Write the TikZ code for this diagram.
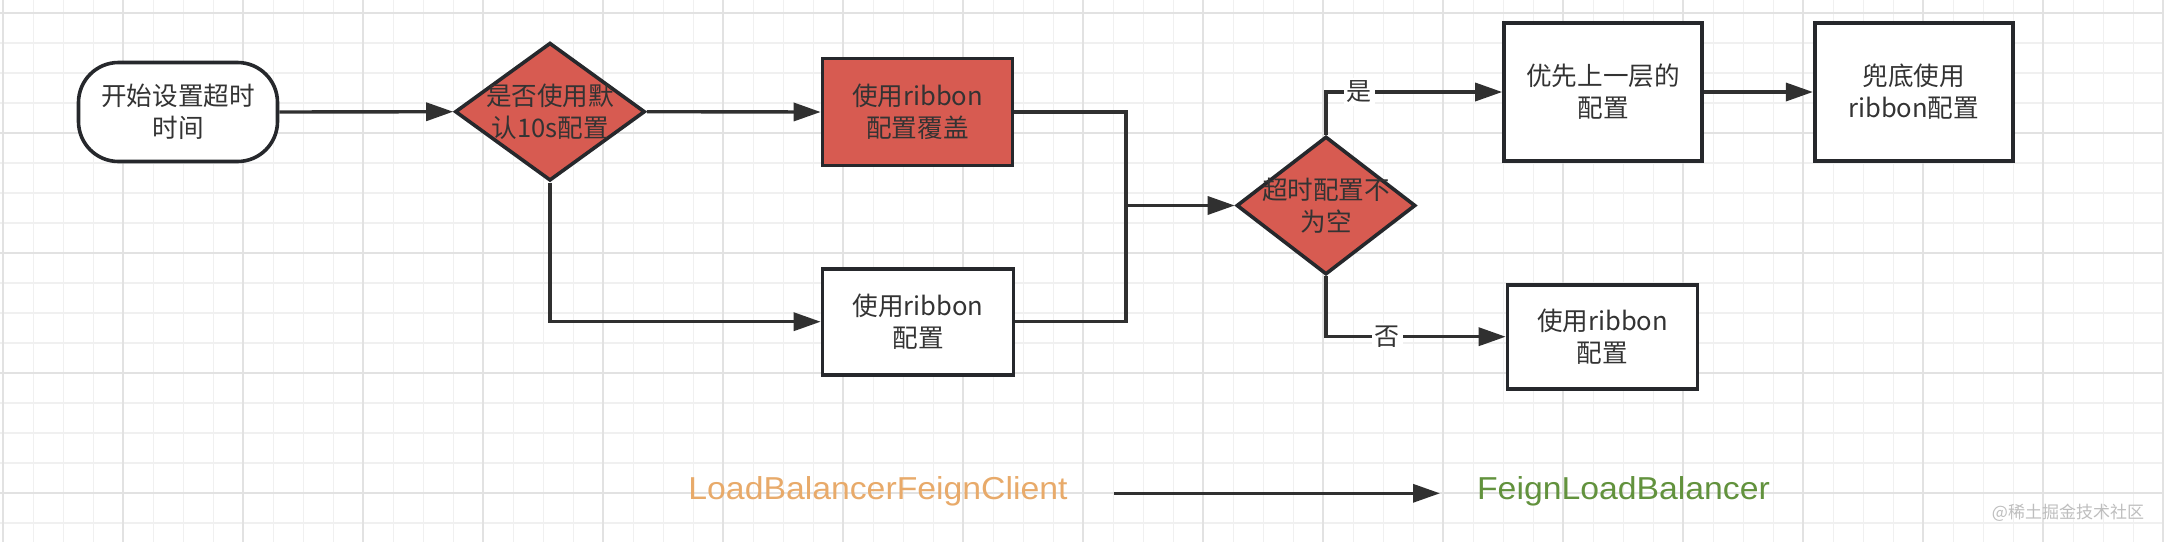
\documentclass[tikz,border=0pt]{standalone}
\usepackage{fontspec}
\setmainfont{Noto Sans CJK SC}
\newfontfamily\latinwide[FakeStretch=1.065]{Liberation Sans}
\usetikzlibrary{arrows.meta,shapes.geometric}
\definecolor{gridminor}{RGB}{240,240,240}
\definecolor{gridmajor}{RGB}{226,226,226}
\definecolor{edgec}{RGB}{38,40,44}
\definecolor{connc}{RGB}{48,48,48}
\definecolor{redfill}{RGB}{215,91,81}
\definecolor{txt}{RGB}{51,51,51}
\definecolor{orangetxt}{RGB}{232,170,106}
\definecolor{greentxt}{RGB}{98,146,61}
\definecolor{wmark}{RGB}{190,190,190}
\begin{document}
\begin{tikzpicture}[x=1pt,y=-1pt,
  boxtext/.style={text=txt, align=center, font=\fontsize{25.6}{32}\selectfont},
  box/.style={draw=edgec, line width=3.6pt, rectangle, inner sep=0pt, boxtext},
  redbox/.style={box, fill=redfill},
  whitebox/.style={box, fill=white},
  startbox/.style={box, rounded corners=40pt, fill=white},
  decision/.style={draw=edgec, line width=3.6pt, diamond, inner sep=0pt, fill=redfill},
  conn/.style={draw=connc, line width=3.4pt},
  arr/.style={conn, -{Triangle[length=27pt,width=18pt]}},
  elabel/.style={fill=white, inner sep=3pt, text=txt, font=\fontsize{25}{30}\selectfont},
  bottomtext/.style={font=\latinwide\fontsize{31.7}{38}\selectfont, anchor=base},
]
\useasboundingbox (0,0) rectangle (2164,542);
\fill[white] (0,0) rectangle (2164,542);
% grid
\foreach \k in {0,...,72} \draw[gridminor, line width=1.6pt] (3.3+30*\k,0) -- (3.3+30*\k,542);
\foreach \k in {0,...,17} \draw[gridminor, line width=1.6pt] (0,12.7+30*\k) -- (2164,12.7+30*\k);
\foreach \k in {0,...,18} \draw[gridmajor, line width=2.2pt] (3.3+120*\k,0) -- (3.3+120*\k,542);
\foreach \k in {0,...,4} \draw[gridmajor, line width=2.2pt] (0,12.7+120*\k) -- (2164,12.7+120*\k);

% nodes
\node[startbox, minimum width=199pt, minimum height=99pt] (start) at (178,112) {开始设置超时\\时间};
\node[decision, minimum width=190pt, minimum height=138pt,
  label={[boxtext]center:{是否使用默\\认10s配置}}] (d1) at (550,111.7) {};
\node[redbox, minimum width=190pt, minimum height=107pt] (b1) at (917.5,112) {使用ribbon\\配置覆盖};
\node[whitebox, minimum width=191pt, minimum height=106pt] (b2) at (918,321.7) {使用ribbon\\配置};
\node[decision, minimum width=179pt, minimum height=138pt,
  label={[boxtext]center:{超时配置不\\为空}}] (d2) at (1326,205.5) {};
\node[whitebox, minimum width=198pt, minimum height=138pt] (b3) at (1603,92) {优先上一层的\\配置};
\node[whitebox, minimum width=198pt, minimum height=138pt] (b4) at (1913.7,92) {兜底使用\\ribbon配置};
\node[whitebox, minimum width=190pt, minimum height=104pt] (b5) at (1602.5,336.7) {使用ribbon\\配置};
\coordinate (m) at (1126,205.5);

% connectors
\draw[arr] (start.east) -- (d1.west);
\draw[arr] (d1.east) -- (b1.west);
\draw[arr] (d1.south) |- (b2.west);
\draw[conn] (b1.east) -| (m);
\draw[conn] (b2.east) -| (m);
\draw[arr] (m) -- (d2.west);
\draw[arr] (d2.north) |- node[elabel, pos=0.594] (yes) {是} (b3.west);
\draw[arr] (d2.south) |- node[elabel, pos=0.67] (no) {否} (b5.west);
\draw[arr] (b3.east) -- (b4.west);

% bottom legend
\node[bottomtext, text=orangetxt] (lb) at (878,499.3) {LoadBalancerFeignClient};
\node[bottomtext, text=greentxt] (flb) at (1623.5,499.3) {FeignLoadBalancer};
\coordinate (a1) at (1114,493.3);
\coordinate (a2) at (1440,493.3);
\draw[arr] (a1) -- (a2);

% watermark
\node[font=\fontsize{17}{20}\selectfont, text=wmark] (wm) at (2068,513) {@稀土掘金技术社区};
\end{tikzpicture}
\end{document}
